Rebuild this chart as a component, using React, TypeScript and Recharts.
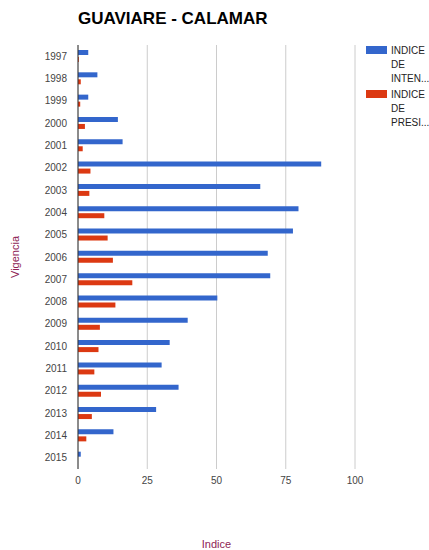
import React from 'react';
import { BarChart, Bar, XAxis, YAxis, CartesianGrid, Label } from 'recharts';

const years = [
  '1997', '1998', '1999', '2000', '2001', '2002', '2003', '2004', '2005', '2006',
  '2007', '2008', '2009', '2010', '2011', '2012', '2013', '2014', '2015',
];
const intensidad = [
  3.7, 7.0, 3.7, 14.4, 16.1, 87.8, 65.8, 79.6, 77.6, 68.5,
  69.4, 50.3, 39.6, 33.1, 30.2, 36.3, 28.2, 12.8, 1.0,
];
const presion = [
  0.3, 1.0, 0.8, 2.5, 1.7, 4.5, 4.1, 9.5, 10.7, 12.6,
  19.6, 13.5, 7.9, 7.4, 5.9, 8.3, 5.0, 3.0, 0,
];
const xTicks = [0, 25, 50, 75, 100];

const series = [
  { key: 'intensidad', color: '#3366cc', lines: ['INDICE', 'DE', 'INTEN...'] },
  { key: 'presion', color: '#dc3912', lines: ['INDICE', 'DE', 'PRESI...'] },
];

const data = years.map((year, i) => ({
  year,
  intensidad: intensidad[i],
  presion: presion[i],
}));

const FONT = 'Arial, "Liberation Sans", sans-serif';
const TITLE_COLOR = '#8e2455';

const Legend = () => (
  <div
    style={{
      position: 'absolute',
      left: 366,
      top: 44,
      fontFamily: FONT,
      fontSize: 10,
      color: '#222',
      whiteSpace: 'nowrap',
    }}
  >
    {series.map((s) => (
      <div key={s.key} style={{ display: 'flex', marginBottom: 2 }}>
        <div style={{ width: 21, height: 8, background: s.color, marginTop: 2, marginRight: 4 }} />
        <div style={{ lineHeight: '14px' }}>
          {s.lines.map((l) => (
            <div key={l}>{l}</div>
          ))}
        </div>
      </div>
    ))}
  </div>
);

export default function App() {
  return (
    <div style={{ position: 'absolute', left: 0, top: 0, width: 429, height: 550, background: '#fff' }}>
      <div
        style={{
          position: 'absolute',
          left: 78,
          top: 9,
          fontFamily: FONT,
          fontWeight: 'bold',
          fontSize: 17,
          color: '#000',
        }}
      >
        GUAVIARE - CALAMAR
      </div>
      <BarChart
        width={429}
        height={550}
        data={data}
        layout="vertical"
        margin={{ top: 45, right: 74, bottom: 51, left: 0 }}
        barSize={5}
        barGap={2}
      >
        <CartesianGrid horizontal={false} stroke="#cccccc" />
        <XAxis
          type="number"
          domain={[0, 100]}
          ticks={xTicks}
          axisLine={false}
          tickLine={false}
          tick={{ fill: '#444', fontSize: 10, fontFamily: FONT }}
        >
          <Label
            content={({ viewBox }: any) => (
              <text
                x={viewBox.x + viewBox.width / 2}
                y={544}
                textAnchor="middle"
                dominantBaseline="central"
                fill={TITLE_COLOR}
                fontSize={11}
                fontFamily={FONT}
              >
                Indice
              </text>
            )}
          />
        </XAxis>
        <YAxis
          type="category"
          dataKey="year"
          width={78}
          axisLine={{ stroke: '#333' }}
          tickLine={false}
          tickMargin={5}
          interval={0}
          tick={{ fill: '#444', fontSize: 10, fontFamily: FONT }}
        >
          <Label
            content={({ viewBox }: any) => {
              const cy = viewBox.y + viewBox.height / 2;
              return (
                <text
                  x={15}
                  y={cy}
                  transform={`rotate(-90, 15, ${cy})`}
                  textAnchor="middle"
                  dominantBaseline="central"
                  fill={TITLE_COLOR}
                  fontSize={11}
                  fontFamily={FONT}
                >
                  Vigencia
                </text>
              );
            }}
          />
        </YAxis>
        {series.map((s) => (
          <Bar key={s.key} dataKey={s.key} fill={s.color} isAnimationActive={false} />
        ))}
      </BarChart>
      <Legend />
    </div>
  );
}
